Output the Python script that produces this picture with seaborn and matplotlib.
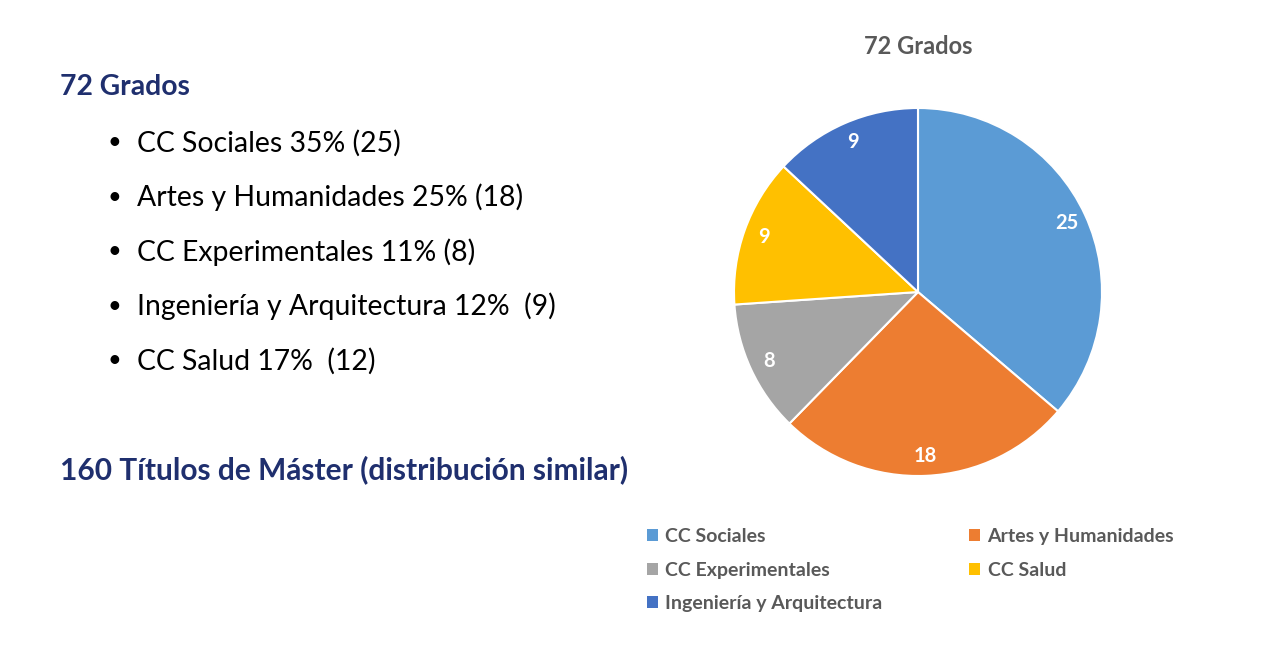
import matplotlib
matplotlib.use("Agg")
import matplotlib.pyplot as plt
import seaborn as sns
from matplotlib.patches import Patch

categories = ["CC Sociales", "Artes y Humanidades", "CC Experimentales", "CC Salud", "Ingeniería y Arquitectura"]
values = [25, 18, 8, 9, 9]
colors = ["#5B9BD5", "#ED7D31", "#A5A5A5", "#FFC000", "#4472C4"]
bullets = ["CC Sociales 35% (25)", "Artes y Humanidades 25% (18)", "CC Experimentales 11% (8)",
           "Ingeniería y Arquitectura 12%  (9)", "CC Salud 17%  (12)"]
heading = "72 Grados"
footer = "160 Títulos de Máster (distribución similar)"
chart_title = "72 Grados"

sns.set_theme(style="white")
plt.rcParams['font.family'] = ['Lato', 'DejaVu Sans']

W, H = 1280, 662
fig = plt.figure(figsize=(W / 100, H / 100), dpi=100)
fig.patch.set_facecolor("white")

navy = "#1F2F6E"
gray = "#595959"

def fx(x):
    return x / W

def fy(y):
    return 1 - y / H

# Left text
fig.text(fx(60), fy(87), heading, fontsize=20.3, fontweight="bold", color=navy, va="center", ha="left")
for i, b in enumerate(bullets):
    y = 143 + i * 54.5
    fig.text(fx(108), fy(y), "•", fontsize=17, color="black", va="center", ha="left")
    fig.text(fx(137), fy(y), b, fontsize=20.4, color="black", va="center", ha="left")
fig.text(fx(60), fy(470), footer, fontsize=21.5, fontweight="bold", color=navy, va="center", ha="left")

# Pie
cx, cy, r = 918, 292, 184
ax = fig.add_axes([fx(cx - r), fy(cy + r), 2 * r / W, 2 * r / H])
wedges, texts = ax.pie(values, colors=colors, startangle=90, counterclock=False,
                       labels=[str(v) for v in values], labeldistance=0.89,
                       wedgeprops=dict(edgecolor="white", linewidth=1.5),
                       textprops=dict(color="white", fontsize=14.5, fontweight="bold", ha="center", va="center"))
for t in texts:
    t.set_ha("center")
    t.set_va("center")
for w in wedges:
    w.set_clip_on(False)
ax.set_xlim(-1, 1)
ax.set_ylim(-1, 1)
ax.set_aspect("equal")
ax.axis("off")

fig.text(fx(cx), fy(46), chart_title, fontsize=17, fontweight="bold", color=gray, ha="center", va="center")

# Legend (row-major order)
order = [0, 2, 4, 1, 3]
handles = [Patch(facecolor=colors[i], edgecolor="none", label=categories[i]) for i in order]
leg = fig.legend(handles=handles, ncol=2, loc="upper left",
                 bbox_to_anchor=(fx(647), fy(528)), frameon=False,
                 fontsize=14, handlelength=0.55, handleheight=0.55, handletextpad=0.4,
                 columnspacing=4.44, labelspacing=0.85, borderpad=0, borderaxespad=0)
for t in leg.get_texts():
    t.set_color(gray)
    t.set_fontweight("bold")

fig.savefig("out.png", dpi=100, facecolor="white")
